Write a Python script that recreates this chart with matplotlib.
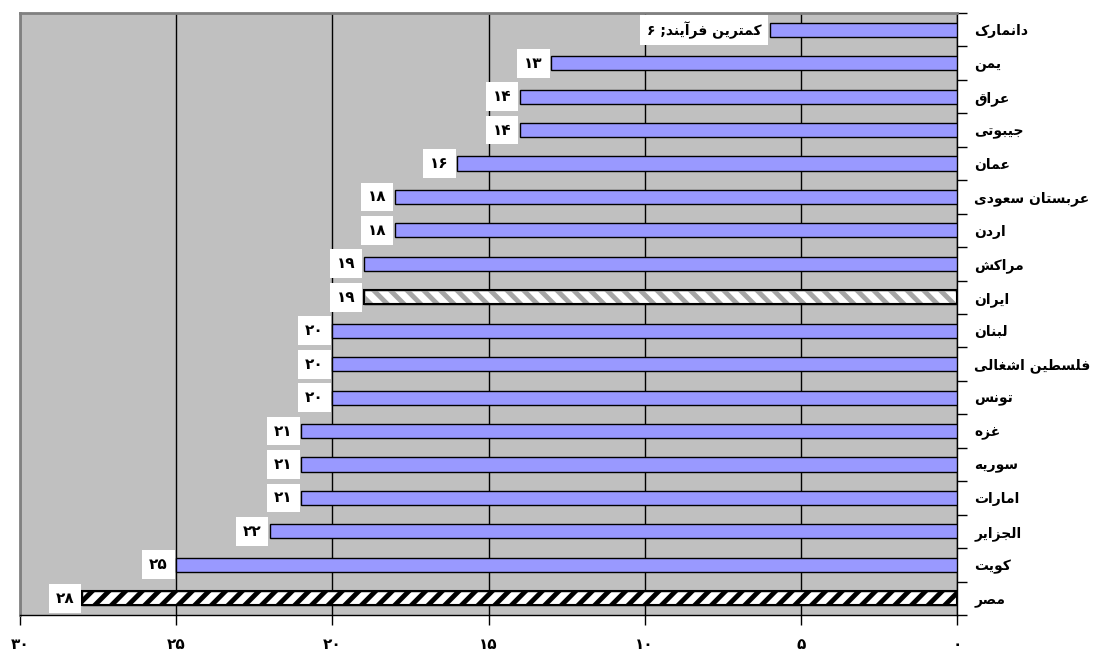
"""Horizontal bar chart of Arab countries plus Iran, Persian labels."""

import matplotlib

matplotlib.use("Agg")
import matplotlib.pyplot as plt
import numpy as np

COUNTRIES = [
    "دانمارک", "یمن", "عراق", "جیبوتی", "عمان", "عربستان سعودی", "اردن",
    "مراکش", "ایران", "لبنان", "فلسطین اشغالی", "تونس", "غزه", "سوریه",
    "امارات", "الجزایر", "کویت", "مصر",
]
VALUES = [6, 13, 14, 14, 16, 18, 18, 19, 19, 20, 20, 20, 21, 21, 21, 22, 25, 28]
X_TICKS = [0, 5, 10, 15, 20, 25, 30]
FIRST_LABEL = "کمترین فرآیند"

BAR_COLOR = "#9999FF"
HATCHED = {"ایران": ("\\\\", "#a6a6a6"), "مصر": ("//", "black")}

# presentation forms: isolated, final, initial, medial (right-joining letters have 2)
FORMS = {
    "\u0622": (0xFE81, 0xFE82),
    "\u0627": (0xFE8D, 0xFE8E),
    "\u0628": (0xFE8F, 0xFE90, 0xFE91, 0xFE92),
    "\u062A": (0xFE95, 0xFE96, 0xFE97, 0xFE98),
    "\u062C": (0xFE9D, 0xFE9E, 0xFE9F, 0xFEA0),
    "\u062F": (0xFEA9, 0xFEAA),
    "\u0631": (0xFEAD, 0xFEAE),
    "\u0632": (0xFEAF, 0xFEB0),
    "\u0633": (0xFEB1, 0xFEB2, 0xFEB3, 0xFEB4),
    "\u0634": (0xFEB5, 0xFEB6, 0xFEB7, 0xFEB8),
    "\u0635": (0xFEB9, 0xFEBA, 0xFEBB, 0xFEBC),
    "\u0637": (0xFEC1, 0xFEC2, 0xFEC3, 0xFEC4),
    "\u0639": (0xFEC9, 0xFECA, 0xFECB, 0xFECC),
    "\u063A": (0xFECD, 0xFECE, 0xFECF, 0xFED0),
    "\u0641": (0xFED1, 0xFED2, 0xFED3, 0xFED4),
    "\u0642": (0xFED5, 0xFED6, 0xFED7, 0xFED8),
    "\u0644": (0xFEDD, 0xFEDE, 0xFEDF, 0xFEE0),
    "\u0645": (0xFEE1, 0xFEE2, 0xFEE3, 0xFEE4),
    "\u0646": (0xFEE5, 0xFEE6, 0xFEE7, 0xFEE8),
    "\u0647": (0xFEE9, 0xFEEA, 0xFEEB, 0xFEEC),
    "\u0648": (0xFEED, 0xFEEE),
    "\u06A9": (0xFB8E, 0xFB8F, 0xFB90, 0xFB91),
    "\u06CC": (0xFBFC, 0xFBFD, 0xFBFE, 0xFBFF),
}


def shape(text):
    """Join letters and reverse to visual order (no bidi lib available)."""
    out = []
    for i, ch in enumerate(text):
        f = FORMS.get(ch)
        if f is None:
            out.append(ch)
            continue
        prev = text[i - 1] if i > 0 else ""
        nxt = text[i + 1] if i + 1 < len(text) else ""
        join_prev = prev in FORMS and len(FORMS[prev]) == 4
        join_next = len(f) == 4 and nxt in FORMS
        if join_prev and join_next:
            code = f[3]
        elif join_prev:
            code = f[1]
        elif join_next:
            code = f[2]
        else:
            code = f[0]
        out.append(chr(code))
    return "".join(reversed(out))


def fa_num(n):
    return str(n).translate(str.maketrans("0123456789", "۰۱۲۳۴۵۶۷۸۹"))


def main():
    plt.rcParams["font.family"] = ["DejaVu Sans"]
    plt.rcParams["font.weight"] = "bold"
    plt.rcParams["hatch.linewidth"] = 3.5

    fig = plt.figure(figsize=(10.95, 6.57), dpi=100)
    ax = fig.add_axes([20 / 1095, 1 - 615 / 657, 937 / 1095, 602 / 657])
    ax.set_facecolor("#C0C0C0")

    y = np.arange(len(COUNTRIES))
    faces = ["white" if c in HATCHED else BAR_COLOR for c in COUNTRIES]
    ax.barh(y, VALUES, height=0.42, color=faces, edgecolor="black", linewidth=1, zorder=3)
    for i, c in enumerate(COUNTRIES):
        if c in HATCHED:
            hatch, hcolor = HATCHED[c]
            ax.barh(y[i], VALUES[i], height=0.42, facecolor="none", edgecolor=hcolor,
                    hatch=hatch, linewidth=0, zorder=4)
            ax.barh(y[i], VALUES[i], height=0.42, fill=False, edgecolor="black",
                    linewidth=1.5, zorder=5)

    for i, v in enumerate(VALUES):
        label = fa_num(v) if i > 0 else fa_num(v) + " ;" + shape(FIRST_LABEL)
        ax.annotate(label, xy=(v, y[i]), xytext=(-6, 0), textcoords="offset points",
                    ha="right", va="center", fontsize=11 if i > 0 else 10,
                    fontweight="bold",
                    bbox=dict(boxstyle="square,pad=0.45", fc="white", ec="none"),
                    zorder=6)

    ax.set_xlim(30, 0)
    ax.set_ylim(len(COUNTRIES) - 0.5, -0.5)
    ax.set_xticks(X_TICKS)
    ax.set_xticklabels([fa_num(t) for t in X_TICKS], fontsize=11, fontweight="bold")
    ax.tick_params(axis="x", direction="out", length=7, width=1, pad=9)
    ax.grid(axis="x", color="black", linewidth=1, zorder=1)

    ax.yaxis.tick_right()
    ax.set_yticks(y)
    ax.set_yticklabels([shape(c) for c in COUNTRIES], fontsize=10, fontweight="bold")
    ax.set_yticks(np.arange(len(COUNTRIES) + 1) - 0.5, minor=True)
    ax.tick_params(axis="y", which="major", length=0, pad=12.5)
    ax.tick_params(axis="y", which="minor", direction="out", length=7, width=1)

    for side in ("left", "top"):
        ax.spines[side].set_color("#808080")
        ax.spines[side].set_linewidth(2)
    for side in ("right", "bottom"):
        ax.spines[side].set_color("black")
        ax.spines[side].set_linewidth(1)

    fig.savefig("out.png", dpi=100)


if __name__ == "__main__":
    main()
